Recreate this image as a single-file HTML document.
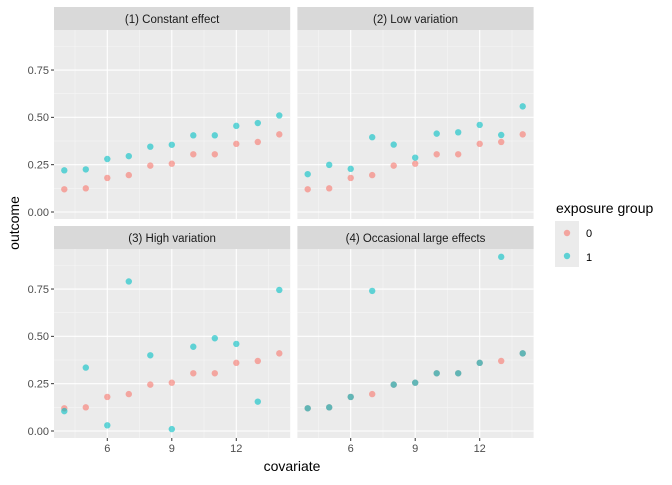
<!DOCTYPE html>
<html><head><meta charset="utf-8"><style>
html,body{margin:0;padding:0;background:#fff;}
svg text{font-family:"Liberation Sans",Arial,sans-serif;}
</style></head><body>
<svg id="s" width="672" height="480" xmlns="http://www.w3.org/2000/svg"></svg>
<script>
var s='';
var red=[0.12,0.125,0.18,0.195,0.245,0.255,0.305,0.305,0.36,0.37,0.41];
var panels=[
 {t:'(1) Constant effect',ox:0,top:7,b:212,blue:[0.22,0.225,0.28,0.295,0.345,0.355,0.405,0.405,0.455,0.47,0.51]},
 {t:'(2) Low variation',ox:243.4,top:7,b:212,blue:[0.20,0.249,0.228,0.395,0.356,0.287,0.414,0.421,0.46,0.407,0.558]},
 {t:'(3) High variation',ox:0,top:226,b:431,blue:[0.105,0.335,0.03,0.79,0.40,0.01,0.445,0.49,0.46,0.155,0.745]},
 {t:'(4) Occasional large effects',ox:243.4,top:226,b:431,blue:[0.12,0.125,0.18,0.74,0.245,0.255,0.305,0.305,0.36,0.92,0.41]}
];
var K=189.3;
function X(p,x){return p.ox+64.3+(x-4)*21.5;}
panels.forEach(function(p,i){
 var L=54+p.ox,R=290.2+p.ox,pt=p.top+23,pb=p.b+7;
 s+='<rect x="'+L+'" y="'+p.top+'" width="'+(R-L)+'" height="23" fill="#D9D9D9"/>';
 s+='<text x="'+((L+R)/2)+'" y="'+(p.top+16)+'" font-size="11.5" fill="#1A1A1A" text-anchor="middle">'+p.t+'</text>';
 s+='<rect x="'+L+'" y="'+pt+'" width="'+(R-L)+'" height="'+(pb-pt)+'" fill="#EBEBEB"/>';
 [0.125,0.375,0.625,0.875].forEach(function(v){var y=p.b-v*K;s+='<line x1="'+L+'" x2="'+R+'" y1="'+y+'" y2="'+y+'" stroke="#F5F5F5" stroke-width="0.6"/>';});
 [4.5,7.5,10.5,13.5].forEach(function(v){var x=X(p,v);s+='<line x1="'+x+'" x2="'+x+'" y1="'+pt+'" y2="'+pb+'" stroke="#F5F5F5" stroke-width="0.6"/>';});
 [0,0.25,0.5,0.75].forEach(function(v){var y=p.b-v*K;s+='<line x1="'+L+'" x2="'+R+'" y1="'+y+'" y2="'+y+'" stroke="#fff" stroke-width="1.1"/>';
   if(p.ox==0){s+='<line x1="'+(L-3)+'" x2="'+L+'" y1="'+y+'" y2="'+y+'" stroke="#333" stroke-width="1"/>';
   s+='<text x="'+(L-5)+'" y="'+(y+3.8)+'" font-size="11" fill="#4D4D4D" text-anchor="end">'+v.toFixed(2)+'</text>';}});
 [6,9,12].forEach(function(v){var x=X(p,v);s+='<line x1="'+x+'" x2="'+x+'" y1="'+pt+'" y2="'+pb+'" stroke="#fff" stroke-width="1.1"/>';
   if(i>=2){s+='<line x1="'+x+'" x2="'+x+'" y1="'+pb+'" y2="'+(pb+3)+'" stroke="#333" stroke-width="1"/>';
   s+='<text x="'+x+'" y="'+(pb+14)+'" font-size="11" fill="#4D4D4D" text-anchor="middle">'+v+'</text>';}});
 for(var k=0;k<11;k++){var x=X(p,4+k);
  s+='<circle cx="'+x+'" cy="'+(p.b-red[k]*K)+'" r="3.2" fill="#F8766D" fill-opacity="0.6"/>';
  s+='<circle cx="'+x+'" cy="'+(p.b-p.blue[k]*K)+'" r="3.2" fill="#00BFC4" fill-opacity="0.6"/>';}
});
s+='<text x="292" y="471" font-size="14" fill="#000" text-anchor="middle">covariate</text>';
s+='<text transform="translate(19,223) rotate(-90)" font-size="14" fill="#000" text-anchor="middle">outcome</text>';
s+='<text x="556" y="213" font-size="14" fill="#000">exposure group</text>';
s+='<rect x="555" y="221" width="24" height="46" fill="#EBEBEB"/>';
s+='<circle cx="567" cy="233" r="3.2" fill="#F8766D" fill-opacity="0.6"/>';
s+='<circle cx="567" cy="256" r="3.2" fill="#00BFC4" fill-opacity="0.6"/>';
s+='<text x="586" y="237" font-size="11" fill="#000">0</text>';
s+='<text x="586" y="261" font-size="11" fill="#000">1</text>';
document.getElementById('s').innerHTML=s;
</script>
</body></html>
